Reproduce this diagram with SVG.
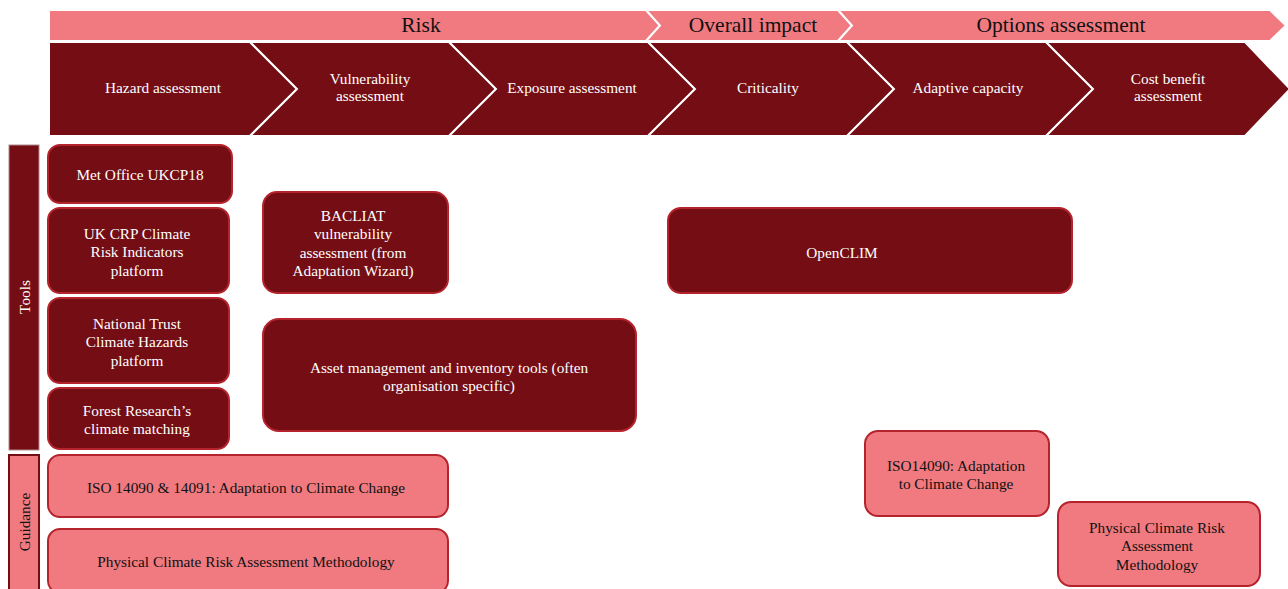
<svg xmlns="http://www.w3.org/2000/svg" width="1288" height="589" viewBox="0 0 1288 589">
<style>
text{font-family:"Liberation Serif","Times New Roman",serif;text-anchor:middle;dominant-baseline:central}
.band{fill:#F07A80;stroke:#ffffff;stroke-width:2}
.band text{fill:#111111;font-size:21.5px;stroke:none}
.chev polygon{fill:#740D14;stroke:#ffffff;stroke-width:2}
.chev text{fill:#ffffff;font-size:15.3px}
.tool rect{fill:#740D14;stroke:#B5242C;stroke-width:2}
.tool text{fill:#ffffff;font-size:15.3px}
.guide rect{fill:#F07A80;stroke:#B5242C;stroke-width:2}
.guide text{fill:#111111;font-size:15.3px}
</style>
<rect width="1288" height="589" fill="#ffffff"/>
<!-- top banner -->
<g id="banner-risk" class="band"><polygon points="49,10 646,10 660,25.5 646,41 49,41"/><text x="421" y="25">Risk</text></g>
<g id="banner-impact" class="band"><polygon points="646,10 838,10 852,25.5 838,41 646,41 660,25.5"/><text x="753" y="25">Overall impact</text></g>
<g id="banner-options" class="band"><polygon points="838,10 1270,10 1286,25.5 1270,41 838,41 852,25.5"/><text x="1061" y="25">Options assessment</text></g>
<!-- chevrons -->
<g id="chev-hazard" class="chev"><polygon points="49,42 250,42 297,89 250,136 49,136"/><text x="163" y="87">Hazard assessment</text></g>
<g id="chev-vuln" class="chev"><polygon points="250,42 449,42 496,89 449,136 250,136 297,89"/><text x="370" y="78">Vulnerability</text><text x="370" y="95">assessment</text></g>
<g id="chev-exposure" class="chev"><polygon points="449,42 648,42 695,89 648,136 449,136 496,89"/><text x="572" y="87">Exposure assessment</text></g>
<g id="chev-crit" class="chev"><polygon points="648,42 847,42 894,89 847,136 648,136 695,89"/><text x="768" y="87">Criticality</text></g>
<g id="chev-adapt" class="chev"><polygon points="847,42 1046,42 1093,89 1046,136 847,136 894,89"/><text x="968" y="87">Adaptive capacity</text></g>
<g id="chev-cost" class="chev"><polygon points="1046,42 1245,42 1290,89 1245,136 1046,136 1093,89"/><text x="1168" y="78">Cost benefit</text><text x="1168" y="95">assessment</text></g>
<!-- side labels -->
<g id="label-tools"><rect x="9" y="145" width="30" height="305" fill="#740D14" stroke="#b08a8a" stroke-width="1"/><text transform="translate(24,297) rotate(-90)" fill="#ffffff" font-size="15.3">Tools</text></g>
<g id="label-guidance"><rect x="9" y="455" width="30" height="140" fill="#F07A80" stroke="#740D14" stroke-width="2"/><text transform="translate(24,522) rotate(-90)" fill="#111111" font-size="15.3">Guidance</text></g>
<!-- tools -->
<g id="tool-metoffice" class="tool"><rect x="48" y="145" width="184" height="58" rx="12"/><text x="140" y="174">Met Office UKCP18</text></g>
<g id="tool-ukcrp" class="tool"><rect x="48" y="208" width="181" height="85" rx="12"/><text x="137" y="233">UK CRP Climate</text><text x="137" y="251">Risk Indicators</text><text x="137" y="270">platform</text></g>
<g id="tool-nationaltrust" class="tool"><rect x="48" y="298" width="181" height="85" rx="12"/><text x="137" y="323">National Trust</text><text x="137" y="341">Climate Hazards</text><text x="137" y="360">platform</text></g>
<g id="tool-forest" class="tool"><rect x="48" y="388" width="181" height="61" rx="12"/><text x="137" y="410">Forest Research’s</text><text x="137" y="428">climate matching</text></g>
<g id="tool-bacliat" class="tool"><rect x="263" y="192" width="185" height="101" rx="14"/><text x="353" y="215">BACLIAT</text><text x="353" y="233">vulnerability</text><text x="353" y="252">assessment (from</text><text x="353" y="270">Adaptation Wizard)</text></g>
<g id="tool-asset" class="tool"><rect x="263" y="319" width="373" height="112" rx="16"/><text x="449" y="367">Asset management and inventory tools (often</text><text x="449" y="385">organisation specific)</text></g>
<g id="tool-openclim" class="tool"><rect x="668" y="208" width="404" height="85" rx="13"/><text x="842" y="252">OpenCLIM</text></g>
<!-- guidance -->
<g id="guide-iso-left" class="guide"><rect x="48" y="455" width="400" height="62" rx="12"/><text x="246" y="487">ISO 14090 &amp; 14091: Adaptation to Climate Change</text></g>
<g id="guide-pcram-left" class="guide"><rect x="48" y="529" width="400" height="64" rx="12"/><text x="246" y="561">Physical Climate Risk Assessment Methodology</text></g>
<g id="guide-iso-right" class="guide"><rect x="865" y="431" width="184" height="85" rx="13"/><text x="956" y="465">ISO14090: Adaptation</text><text x="956" y="483">to Climate Change</text></g>
<g id="guide-pcram-right" class="guide"><rect x="1058" y="502" width="202" height="84" rx="13"/><text x="1157" y="527">Physical Climate Risk</text><text x="1157" y="545">Assessment</text><text x="1157" y="564">Methodology</text></g>
<g id="connectors"></g>
</svg>
